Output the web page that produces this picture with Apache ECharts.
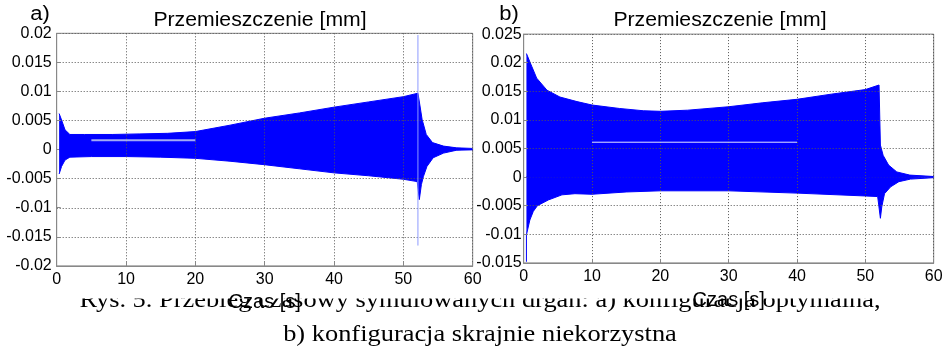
<!DOCTYPE html>
<html>
<head>
<meta charset="utf-8">
<script src="https://cdn.jsdelivr.net/npm/echarts@6/dist/echarts.min.js"></script>
<style>
  html, body { margin: 0; padding: 0; background: #fff; }
  #chart { width: 951px; height: 355px; }
</style>
</head>
<body>
<div id="chart"></div>
<script>
  // a) konfiguracja optymalna - obwiednia drgan
  const tUpperA = [0.35, 0.7, 1.2, 1.9, 4, 8, 12, 16, 20, 25, 30, 35, 40, 45, 50, 52.1, 52.4, 52.7, 53.3, 54.2, 55.8, 57.7, 60]
  const vUpperA = [0.0062, 0.0051, 0.0034, 0.0026, 0.0026, 0.0026, 0.0027, 0.0028, 0.0031, 0.0042, 0.0054, 0.0063, 0.0073, 0.0082, 0.0091, 0.0097, 0.0075, 0.0052, 0.0026, 0.0012, 0.0006, 0.0003, 0.0002]
  const tLowerA = [0.35, 0.7, 1.2, 1.9, 5, 10, 15, 20, 25, 30, 35, 40, 45, 50, 52.0, 52.3, 52.6, 52.9, 53.4, 54.3, 55.8, 57.7, 60]
  const vLowerA = [-0.0042, -0.0029, -0.0018, -0.0013, -0.0012, -0.0012, -0.0013, -0.0015, -0.0020, -0.0026, -0.0033, -0.0040, -0.0045, -0.0051, -0.0055, -0.0086, -0.0060, -0.0046, -0.0029, -0.0014, -0.0006, -0.0001, 0]
  const centerA = [[0.35, 0], [60, 0]]
  const spikeA = [[52.1, 0.0197], [52.1, -0.0165]]
  const markA = [[5, 0.0016], [20, 0.0016]]

  // b) konfiguracja skrajnie niekorzystna
  const tUpperB = [0.4, 1.2, 1.9, 3.4, 5.3, 7.8, 10, 14, 17.5, 20, 24, 30, 35, 40, 45, 50, 52.0, 52.2, 52.6, 53.4, 54.6, 56.5, 60]
  const vUpperB = [0.0216, 0.0193, 0.0173, 0.0152, 0.0140, 0.0132, 0.0126, 0.0120, 0.0116, 0.0115, 0.0117, 0.0123, 0.0130, 0.0136, 0.0145, 0.0153, 0.0161, 0.0056, 0.0038, 0.0021, 0.0009, 0.00035, 0.0001]
  const tLowerB = [0.4, 0.9, 1.4, 2.0, 3.6, 5.6, 7.5, 10, 15, 20, 30, 40, 50, 51.8, 52.2, 52.4, 52.8, 53.7, 54.9, 56.6, 60]
  const vLowerB = [-0.0101, -0.0075, -0.0060, -0.0050, -0.0040, -0.0031, -0.0029, -0.0030, -0.0026, -0.0024, -0.0024, -0.0028, -0.0033, -0.0034, -0.0072, -0.0052, -0.0029, -0.0017, -0.0008, -0.00035, -0.0001]
  const centerB = [[0.4, 0], [60, 0]]
  const spikeB = [[0.4, -0.0101], [0.4, -0.0148]]
  const markB = [[10, 0.0061], [40, 0.0061]]

  const titleText = 'Przemieszczenie [mm]'
  const xName = 'Czas [s]'
  const caption1 = 'Rys. 5. Przebieg czasowy symulowanych drgań: a) konfiguracja optymalna,'
  const caption2 = 'b) konfiguracja skrajnie niekorzystna'

  function zip(t, v) {
    return t.map((x, i) => [x, v[i]])
  }

  const blue = '#0000ff'
  const sans = 'Liberation Sans, Arial, sans-serif'

  function envelope(data, idx) {
    return {
      type: 'line',
      xAxisIndex: idx,
      yAxisIndex: idx,
      data: data,
      symbol: 'none',
      z: 2,
      lineStyle: { color: blue, width: 1 },
      areaStyle: { color: blue, opacity: 1 }
    }
  }
  function thin(data, idx, color, width) {
    return {
      type: 'line',
      xAxisIndex: idx,
      yAxisIndex: idx,
      data: data,
      symbol: 'none',
      z: 3,
      lineStyle: { color: color, width: width }
    }
  }

  function xAxis(idx, gap) {
    return {
      type: 'value',
      gridIndex: idx,
      min: 0, max: 60, interval: 10,
      z: 3,
      name: xName,
      nameLocation: 'middle',
      nameGap: gap,
      nameTextStyle: { fontFamily: sans, fontSize: 20, color: '#000' },
      axisLine: { onZero: false, lineStyle: { color: '#888' } },
      axisTick: { inside: true, length: 4, lineStyle: { color: '#888' } },
      axisLabel: { fontFamily: sans, fontSize: 16, color: '#000', margin: 6 },
      splitLine: { show: true, lineStyle: { color: '#555', type: [1, 2] } }
    }
  }
  function yAxis(idx, min, max, margin) {
    return {
      type: 'value',
      gridIndex: idx,
      min: min, max: max, interval: 0.005,
      z: 3,
      axisLine: { show: true, onZero: false, lineStyle: { color: '#888' } },
      axisTick: { show: true, inside: true, length: 4, lineStyle: { color: '#888' } },
      axisLabel: { fontFamily: sans, fontSize: 16, color: '#000', margin: margin },
      splitLine: { show: true, lineStyle: { color: '#555', type: [1, 2] } }
    }
  }

  function txt(x, y, text, size, font, sx, z) {
    return {
      type: 'text', x: x, y: y, z: z, scaleX: sx,
      style: { text: text, fontSize: size, fontFamily: font, fill: '#000', align: 'center', verticalAlign: 'middle' }
    }
  }

  const chart = echarts.init(document.getElementById('chart'))
  chart.setOption({
    animation: false,
    backgroundColor: '#fff',
    grid: [
      { left: 56.7, top: 33.3, width: 416, height: 232.6, show: true, borderColor: '#888', borderWidth: 1, z: 3 },
      { left: 523.7, top: 34.1, width: 410, height: 228.8, show: true, borderColor: '#888', borderWidth: 1, z: 3 }
    ],
    xAxis: [xAxis(0, 25), xAxis(1, 28)],
    yAxis: [yAxis(0, -0.02, 0.02, 5), yAxis(1, -0.015, 0.025, 2)],
    graphic: [
      txt(480, 301, caption1, 24, 'Liberation Serif, Times New Roman, serif', 1.1, 0),
      txt(480, 335, caption2, 24, 'Liberation Serif, Times New Roman, serif', 1.1, 0),
      { type: 'rect', z: 1, shape: { x: 40, y: 280, width: 880, height: 18.5 }, style: { fill: '#fff' } },
      txt(40, 14, 'a)', 20, sans, 1.1, 10),
      txt(509, 14, 'b)', 20, sans, 1.1, 10),
      txt(260, 20, titleText, 20, sans, 1.06, 10),
      txt(720, 20, titleText, 20, sans, 1.06, 10)
    ],
    series: [
      envelope(zip(tUpperA, vUpperA), 0),
      envelope(zip(tLowerA, vLowerA), 0),
      thin(centerA, 0, blue, 1.5),
      thin(spikeA, 0, '#8d9bff', 1),
      thin(markA, 0, '#a3aaf5', 2),
      envelope(zip(tUpperB, vUpperB), 1),
      envelope(zip(tLowerB, vLowerB), 1),
      thin(centerB, 1, blue, 1.5),
      thin(spikeB, 1, blue, 1),
      thin(markB, 1, '#e4e6ff', 1)
    ]
  })
</script>
</body>
</html>
